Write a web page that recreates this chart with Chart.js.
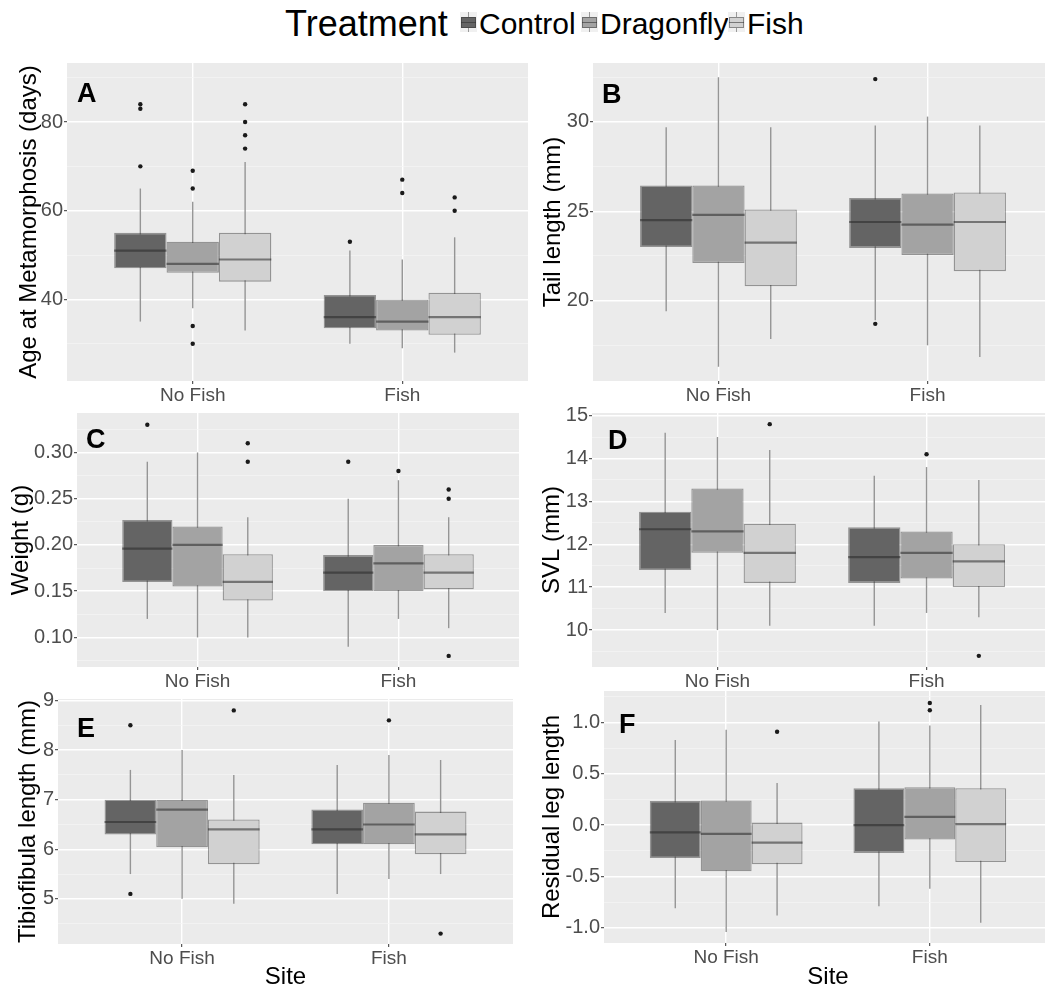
<!DOCTYPE html>
<html>
<head>
<meta charset="utf-8">
<script src="https://cdn.jsdelivr.net/npm/chart.js@4.4.1/dist/chart.umd.min.js"></script>
<style>
  html, body { margin: 0; padding: 0; background: #fff; overflow: hidden; }
  body { width: 1045px; height: 991px; position: relative; font-family: "Liberation Sans", Arial, sans-serif; }
  canvas { position: absolute; }
  .lg { position: absolute; line-height: 1; color: #000; white-space: nowrap; }
  .key { position: absolute; top: 12px; width: 17px; height: 20px; background: #f0f0f0; }
  .key .wh { position: absolute; left: 7.5px; top: 0; width: 1.5px; height: 20px; background: #9a9a9a; }
  .key .bx { position: absolute; left: 1px; top: 5px; width: 13px; height: 9px; border: 1px solid rgba(45,45,45,0.45); }
  .key .md { position: absolute; left: 1px; top: 9.5px; width: 15px; height: 1.5px; background: rgba(45,45,45,0.55); }
</style>
</head>
<body>
<div class="lg" style="left:285px;top:6px;font-size:36px">Treatment</div>
<div class="key" style="left:460px"><div class="wh"></div><div class="bx" style="background:#646464"></div><div class="md"></div></div>
<div class="lg" style="left:479px;top:9px;font-size:30px">Control</div>
<div class="key" style="left:581px"><div class="wh"></div><div class="bx" style="background:#a3a3a3"></div><div class="md"></div></div>
<div class="lg" style="left:600px;top:9px;font-size:30px">Dragonfly</div>
<div class="key" style="left:728px"><div class="wh"></div><div class="bx" style="background:#d1d1d1"></div><div class="md"></div></div>
<div class="lg" style="left:747px;top:9px;font-size:30px">Fish</div>

<canvas id="pA"></canvas>
<canvas id="pB"></canvas>
<canvas id="pC"></canvas>
<canvas id="pD"></canvas>
<canvas id="pE"></canvas>
<canvas id="pF"></canvas>

<script>
const sites = ['No Fish', 'Fish'];
const treatments = ['Control', 'Dragonfly', 'Fish'];
const fills = ['#646464', '#a3a3a3', '#d1d1d1'];

// each row: [lower whisker, Q1, median, Q3, upper whisker], rows = No Fish, Fish
// A: age at metamorphosis (days)
const ageControl = [[35, 47, 51, 55, 65], [30, 33.5, 36, 41, 51]];
const ageDragonfly = [[38, 46, 48, 53, 62], [29, 33, 35, 40, 49]];
const ageFish = [[33, 44, 49, 55, 71], [28, 32, 36, 41.5, 54]];
const ageControlOut = [[84, 83, 70], [53]];
const ageDragonflyOut = [[69, 65, 34, 30], [67, 64]];
const ageFishOut = [[84, 80, 77, 74], [63, 60]];
const ageTicks = [40, 60, 80];
const ageMinor = [30, 50, 70, 90];

// B: tail length (mm)
const tailControl = [[19.4, 23.0, 24.5, 26.45, 29.7], [18.9, 22.95, 24.4, 25.75, 29.8]];
const tailDragonfly = [[16.3, 22.1, 24.8, 26.45, 32.5], [17.5, 22.55, 24.25, 26.0, 30.3]];
const tailFish = [[17.85, 20.8, 23.25, 25.1, 29.7], [16.85, 21.65, 24.4, 26.05, 29.8]];
const tailControlOut = [[], [32.4, 18.7]];
const tailDragonflyOut = [[], []];
const tailFishOut = [[], []];
const tailTicks = [20, 25, 30];
const tailMinor = [17.5, 22.5, 27.5, 32.5];

// C: weight (g)
const weightControl = [[0.12, 0.16, 0.196, 0.227, 0.29], [0.09, 0.15, 0.17, 0.189, 0.25]];
const weightDragonfly = [[0.10, 0.155, 0.20, 0.22, 0.30], [0.12, 0.15, 0.18, 0.20, 0.27]];
const weightFish = [[0.10, 0.14, 0.16, 0.19, 0.23], [0.11, 0.152, 0.17, 0.19, 0.23]];
const weightControlOut = [[0.33], [0.29]];
const weightDragonflyOut = [[], [0.28]];
const weightFishOut = [[0.31, 0.29], [0.26, 0.25, 0.08]];
const weightTicks = [0.10, 0.15, 0.20, 0.25, 0.30];
const weightMinor = [0.075, 0.125, 0.175, 0.225, 0.275, 0.325];

// D: SVL (mm)
const svlControl = [[10.4, 11.4, 12.35, 12.76, 14.6], [10.1, 11.1, 11.7, 12.4, 13.6]];
const svlDragonfly = [[10.0, 11.8, 12.3, 13.3, 14.5], [10.4, 11.2, 11.8, 12.3, 13.8]];
const svlFish = [[10.1, 11.1, 11.8, 12.48, 14.2], [10.3, 11.0, 11.6, 12.0, 13.5]];
const svlControlOut = [[], []];
const svlDragonflyOut = [[], [14.1]];
const svlFishOut = [[14.8], [9.4]];
const svlTicks = [10, 11, 12, 13, 14, 15];
const svlMinor = [9.5, 10.5, 11.5, 12.5, 13.5, 14.5];

// E: tibiofibula length (mm)
const tibControl = [[5.5, 6.3, 6.55, 7.0, 7.6], [5.1, 6.1, 6.4, 6.8, 7.7]];
const tibDragonfly = [[5.0, 6.04, 6.8, 7.0, 8.0], [5.4, 6.1, 6.5, 6.94, 7.9]];
const tibFish = [[4.9, 5.7, 6.4, 6.6, 7.5], [5.5, 5.9, 6.3, 6.76, 7.8]];
const tibControlOut = [[8.5, 5.1], []];
const tibDragonflyOut = [[], [8.6]];
const tibFishOut = [[8.8], [4.3]];
const tibTicks = [5, 6, 7, 8, 9];
const tibMinor = [4.5, 5.5, 6.5, 7.5, 8.5];

// F: residual leg length
const legControl = [[-0.81, -0.32, -0.07, 0.235, 0.83], [-0.79, -0.27, 0.0, 0.36, 1.01]];
const legDragonfly = [[-1.04, -0.45, -0.085, 0.24, 0.93], [-0.62, -0.14, 0.08, 0.37, 0.97]];
const legFish = [[-0.88, -0.38, -0.17, 0.025, 0.41], [-0.95, -0.36, 0.01, 0.36, 1.17]];
const legControlOut = [[], []];
const legDragonflyOut = [[], [1.19, 1.12]];
const legFishOut = [[0.91], []];
const legTicks = [-1.0, -0.5, 0.0, 0.5, 1.0];
const legMinor = [-0.75, -0.25, 0.25, 0.75, 1.25];

const FONT = '"Liberation Sans", Arial, sans-serif';
Chart.defaults.font.family = FONT;

// rect = plot area [left, top, right, bottom]; titleX = centre of the y title
const panels = [
  { id: 'pA', letter: 'A', letterAt: [10, 39], title: 'Age at Metamorphosis (days)', boxes: [ageControl, ageDragonfly, ageFish],
    outliers: [ageControlOut, ageDragonflyOut, ageFishOut], ticks: ageTicks, minor: ageMinor, dec: 0,
    yMin: 21.6, yMax: 93.3, rect: [67, 63, 532, 381], titleX: 29.5, site: false },
  { id: 'pB', letter: 'B', letterAt: [9, 40], title: 'Tail length (mm)', boxes: [tailControl, tailDragonfly, tailFish],
    outliers: [tailControlOut, tailDragonflyOut, tailFishOut], ticks: tailTicks, minor: tailMinor, dec: 0,
    yMin: 15.5, yMax: 33.3, rect: [593, 63, 1057, 381], titleX: 553, site: false },
  { id: 'pC', letter: 'C', letterAt: [9, 35], title: 'Weight (g)', boxes: [weightControl, weightDragonfly, weightFish],
    outliers: [weightControlOut, weightDragonflyOut, weightFishOut], ticks: weightTicks, minor: weightMinor, dec: 2,
    yMin: 0.068, yMax: 0.3427, rect: [77, 413, 523, 667], titleX: 21, site: false },
  { id: 'pD', letter: 'D', letterAt: [16, 36], title: 'SVL (mm)', boxes: [svlControl, svlDragonfly, svlFish],
    outliers: [svlControlOut, svlDragonflyOut, svlFishOut], ticks: svlTicks, minor: svlMinor, dec: 0,
    yMin: 9.14, yMax: 15.06, rect: [592, 413, 1056, 667], titleX: 552, site: false },
  { id: 'pE', letter: 'E', letterAt: [19, 38], title: 'Tibiofibula length (mm)', boxes: [tibControl, tibDragonfly, tibFish],
    outliers: [tibControlOut, tibDragonflyOut, tibFishOut], ticks: tibTicks, minor: tibMinor, dec: 0,
    yMin: 4.09, yMax: 9.03, rect: [58, 699, 517, 944], titleX: 28, site: true },
  { id: 'pF', letter: 'F', letterAt: [15, 42], title: 'Residual leg length', boxes: [legControl, legDragonfly, legFish],
    outliers: [legControlOut, legDragonflyOut, legFishOut], ticks: legTicks, minor: legMinor, dec: 1,
    yMin: -1.148, yMax: 1.307, rect: [604, 691, 1056, 943], titleX: 552, site: true },
];

const DODGE = 0.75;

// whiskers under the boxes, medians and panel letter on top
const boxParts = {
  id: 'boxParts',
  beforeDraw(chart) {
    const a = chart.chartArea, ctx = chart.ctx;
    ctx.save();
    ctx.fillStyle = '#ebebeb';
    ctx.fillRect(a.left, a.top, a.right - a.left, a.bottom - a.top);
    ctx.restore();
  },
  beforeDatasetsDraw(chart) {
    const ctx = chart.ctx, y = chart.scales.y;
    ctx.save();
    ctx.strokeStyle = '#959595';
    ctx.lineWidth = 1.4;
    chart.data.datasets.forEach((ds, di) => {
      if (!ds.stats) return;
      chart.getDatasetMeta(di).data.forEach((el, i) => {
        const s = ds.stats[i];
        ctx.beginPath();
        ctx.moveTo(el.x, y.getPixelForValue(s[0]));
        ctx.lineTo(el.x, y.getPixelForValue(s[4]));
        ctx.stroke();
      });
    });
    ctx.restore();
  },
  afterDatasetsDraw(chart, args, opts) {
    const ctx = chart.ctx, y = chart.scales.y;
    ctx.save();
    ctx.strokeStyle = 'rgba(40,40,40,0.55)';
    ctx.lineWidth = 2.2;
    chart.data.datasets.forEach((ds, di) => {
      if (!ds.stats) return;
      chart.getDatasetMeta(di).data.forEach((el, i) => {
        const py = y.getPixelForValue(ds.stats[i][2]);
        ctx.beginPath();
        ctx.moveTo(el.x - el.width / 2, py);
        ctx.lineTo(el.x + el.width / 2, py);
        ctx.stroke();
      });
    });
    const a = chart.chartArea;
    ctx.fillStyle = '#000';
    ctx.font = 'bold 27px ' + FONT;
    ctx.textBaseline = 'alphabetic';
    ctx.fillText(opts.letter, a.left + opts.at[0], a.top + opts.at[1]);
    ctx.restore();
  }
};

function makePanel(p) {
  const [l, t, r, b] = p.rect;
  const padTop = 14;
  const cl = Math.round(p.titleX - 16.4);
  const xh = p.site ? 50 : 30;
  const cv = document.getElementById(p.id);
  cv.width = r - cl;
  cv.height = padTop + (b - t) + xh;
  cv.style.left = cl + 'px';
  cv.style.top = (t - padTop) + 'px';

  const datasets = [];
  treatments.forEach((name, k) => {
    datasets.push({
      type: 'bar', label: name,
      data: p.boxes[k].map((s, i) => ({ x: i + 1, y: [s[1], s[3]] })),
      stats: p.boxes[k],
      backgroundColor: fills[k],
      borderColor: 'rgba(40,40,40,0.45)',
      borderWidth: 1.3,
      borderSkipped: false,
      categoryPercentage: DODGE,
      barPercentage: 1,
      order: 1
    });
  });
  treatments.forEach((name, k) => {
    const pts = [];
    p.outliers[k].forEach((vals, i) => {
      vals.forEach(v => pts.push({ x: i + 1 + (k - 1) * DODGE / 3, y: v }));
    });
    datasets.push({
      type: 'scatter', label: name + ' outliers', data: pts,
      pointRadius: 2.2, pointBackgroundColor: '#1a1a1a', pointBorderWidth: 0, order: 0
    });
  });

  const tickList = p.ticks.map(v => ({ value: v }))
    .concat(p.minor.map(v => ({ value: v, minor: true })))
    .sort((u, w) => u.value - w.value);

  new Chart(cv, {
    type: 'bar',
    data: { datasets },
    plugins: [boxParts],
    options: {
      responsive: false,
      animation: false,
      devicePixelRatio: 1,
      layout: { padding: { top: padTop, right: 0, bottom: 0, left: 0 } },
      plugins: {
        legend: { display: false },
        tooltip: { enabled: false },
        boxParts: { letter: p.letter, at: p.letterAt }
      },
      scales: {
        x: {
          type: 'linear', min: 0.4, max: 2.6, offset: false,
          afterBuildTicks: ax => { ax.ticks = sites.map((s, i) => ({ value: i + 1 })); },
          afterFit: ax => { ax.height = xh; },
          grid: { offset: false, color: '#ffffff', lineWidth: 1.4, tickColor: '#333333', tickLength: 3, tickWidth: 1 },
          border: { display: false },
          ticks: {
            autoSkip: false, maxRotation: 0, padding: 0, color: '#4d4d4d',
            font: { size: 19 }, callback: (v, i) => sites[i]
          },
          title: {
            display: p.site, text: 'Site', color: '#000',
            font: { size: 24 }, padding: { top: 0, bottom: (b + xh) - 977.7 - 14.4 }
          }
        },
        y: {
          type: 'linear', min: p.yMin, max: p.yMax,
          afterBuildTicks: ax => { ax.ticks = tickList.map(o => Object.assign({}, o)); },
          afterFit: ax => { ax.width = l - cl; },
          grid: {
            color: c => (c.tick && c.tick.minor) ? '#f5f5f5' : '#ffffff',
            lineWidth: c => (c.tick && c.tick.minor) ? 0.7 : 1.4,
            tickColor: c => (c.tick && c.tick.minor) ? 'rgba(0,0,0,0)' : '#333333',
            tickLength: 3, tickWidth: 1
          },
          border: { display: false },
          ticks: {
            autoSkip: false, padding: 1, color: '#4d4d4d', font: { size: 20 },
            callback: (v, i, ts) => ts[i].minor ? '' : v.toFixed(p.dec)
          },
          title: {
            display: true, text: p.title, color: '#000',
            font: { size: 24 }, padding: { top: p.titleX - cl - 14.4, bottom: 0 }
          }
        }
      }
    }
  });
}

panels.forEach(makePanel);
</script>
</body>
</html>
